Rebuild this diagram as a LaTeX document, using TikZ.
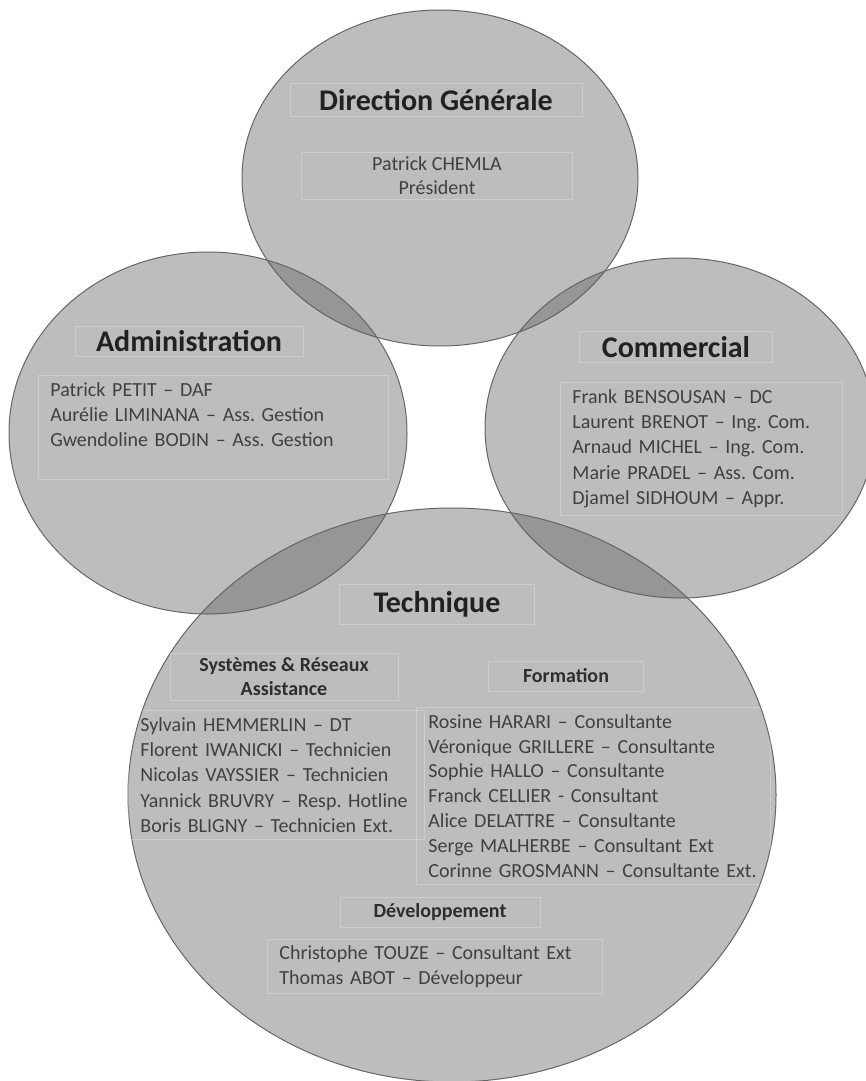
\documentclass[tikz,border=0pt]{standalone}
\usepackage{fontspec}
\setmainfont{Carlito}
\frenchspacing
\usetikzlibrary{positioning, shapes}

\begin{document}
\begin{tikzpicture}[x=1pt, y=-1pt,
    pole/.style={ellipse, draw=black!60, line width=1pt, fill=black!63, fill opacity=0.41, inner sep=0pt},
    box/.style={draw=white, draw opacity=0.25, line width=0.8pt, inner sep=0pt},
    title/.style={box, font=\bfseries\fontsize{30}{36}\selectfont, text=black!87},
    subtitle/.style={box, font=\bfseries\fontsize{20}{24}\selectfont, text=black!82, align=center},
    names/.style={box, font=\fontsize{20}{25.3}\selectfont, text=black!75, align=left, anchor=north west, inner xsep=12pt, inner ysep=7pt}]
    \useasboundingbox (0,0) rectangle (866,1081);

    % Poles
    \node[pole, minimum width=396pt, minimum height=336pt] (dirg) at (440,178) {};
    \node[pole, minimum width=398pt, minimum height=362pt] (admin) at (208,433) {};
    \node[pole, minimum width=390pt, minimum height=340pt] (comm) at (680,428) {};
    \node[pole, minimum width=648pt, minimum height=574pt] (tech) at (452,795) {};

    % Direction Generale
    \node[title, minimum width=292pt, minimum height=33pt] (dirgT) at (436,100) {Direction Générale};
    \node[subtitle, font=\fontsize{20}{24}\selectfont, text=black!75, minimum width=271pt, minimum height=47pt] (dirgP) at (437,176) {Patrick CHEMLA\\Président};

    % Administration
    \node[title, minimum width=228pt, minimum height=30pt] (adminT) at (189,341) {Administration};
    \node[names, text width=326pt] (adminP) at (38,375) {Patrick PETIT – DAF\\Aurélie LIMINANA – Ass. Gestion\\Gwendoline BODIN – Ass. Gestion\\\mbox{}};

    % Commercial
    \node[title, minimum width=193pt, minimum height=31pt] (commT) at (676,347) {Commercial};
    \node[names, text width=258pt] (commP) at (560,382) {Frank BENSOUSAN – DC\\Laurent BRENOT – Ing. Com.\\Arnaud MICHEL – Ing. Com.\\Marie PRADEL – Ass. Com.\\Djamel SIDHOUM – Appr.};

    % Technique
    \node[title, minimum width=195pt, minimum height=40pt] (techT) at (437,604) {Technique};
    \node[subtitle, minimum width=228pt, minimum height=47pt] (sysT) at (284,677) {Systèmes \& Réseaux\\Assistance};
    \node[subtitle, minimum width=155pt, minimum height=30pt] (formT) at (566,676) {Formation};
    \node[names, text width=272pt] (sysP) at (128,710) {Sylvain HEMMERLIN – DT\\Florent IWANICKI – Technicien\\Nicolas VAYSSIER – Technicien\\Yannick BRUVRY – Resp. Hotline\\Boris BLIGNY – Technicien Ext.};
    \node[names, text width=330pt, font=\fontsize{20}{24.8}\selectfont] (formP) at (416,707) {Rosine HARARI – Consultante\\Véronique GRILLERE – Consultante\\Sophie HALLO – Consultante\\Franck CELLIER - Consultant\\Alice DELATTRE – Consultante\\Serge MALHERBE – Consultant Ext\\Corinne GROSMANN – Consultante Ext.};
    \node[subtitle, minimum width=200pt, minimum height=30pt] (devT) at (440,912) {Développement};
    \node[names, text width=311pt, inner ysep=6pt] (devP) at (267,939) {Christophe TOUZE – Consultant Ext\\Thomas ABOT – Développeur};
\end{tikzpicture}
\end{document}
